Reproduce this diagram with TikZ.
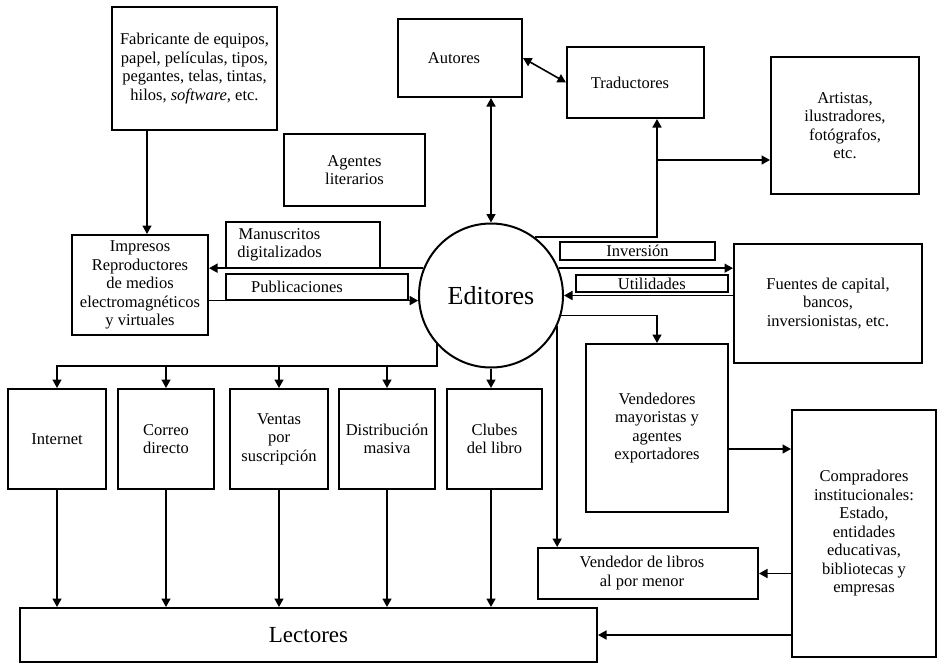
\documentclass[tikz,border=0pt]{standalone}
\usepackage{fontspec}
\setmainfont{Liberation Serif}
\usetikzlibrary{arrows.meta}
\tikzset{
  box/.style={draw, line width=2pt, inner sep=1pt, align=center, font=\fontsize{16.5}{18.5}\selectfont},
  arr/.style={line width=1.6pt, -{Triangle[length=8.5pt,width=9pt]}},
  darr/.style={line width=1.6pt, {Triangle[length=8.5pt,width=9pt]}-{Triangle[length=8.5pt,width=9pt]}},
  ln/.style={line width=1.6pt}
}
\begin{document}
\begin{tikzpicture}[x=1pt,y=-1pt]
\useasboundingbox (0,0) rectangle (937,664);
% nodes
\node[box, minimum width=165, minimum height=123] (fab) at (194.5,68.5) {Fabricante de equipos,\\papel, películas, tipos,\\pegantes, telas, tintas,\\hilos, \emph{software}, etc.};
\node[box, minimum width=136, minimum height=100] (imp) at (140,285) {Impresos\\Reproductores\\de medios\\electromagnéticos\\y virtuales};
\node[box, minimum width=141, minimum height=72] (agt) at (354.5,170) {Agentes\\literarios};
\node[box, minimum width=124, minimum height=78] (aut) at (460,58) {Autores\hspace{12pt}};
\node[box, minimum width=137, minimum height=71] (trad) at (635.5,82.5) {Traductores\hspace{11pt}};
\node[box, minimum width=148, minimum height=137] (art) at (845,125.5) {Artistas,\\ilustradores,\\fotógrafos,\\etc.};
\node[box, minimum width=154, minimum height=46, inner sep=0pt] (man) at (303,245) {\begin{tabular}{@{}c@{}}Manuscritos\\digitalizados\end{tabular}\hspace{47pt}};
\node[box, minimum width=182, minimum height=26, inner sep=0pt] (pub) at (317,287) {Publicaciones\hspace{40pt}};
\node[box, minimum width=155, minimum height=18, inner sep=0pt] (inv) at (637.5,251) {Inversión};
\node[box, minimum width=151.5, minimum height=17, inner sep=0pt] (uti) at (651.75,283.5) {Utilidades};
\node[box, minimum width=188, minimum height=119] (fue) at (828,303.5) {Fuentes de capital,\\bancos,\\inversionistas, etc.};
\node[draw, circle, line width=2pt, minimum size=144, inner sep=0pt, font=\fontsize{26}{30}\selectfont] (edi) at (491,295.5) {Editores};
\node[box, minimum width=142, minimum height=168] (vm) at (657,428) {Vendedores\\mayoristas y\\agentes\\exportadores};
\node[box, minimum width=144, minimum height=247] (comp) at (864,533.5) {Compradores\\institucionales:\\Estado,\\entidades\\educativas,\\bibliotecas y\\empresas};
\node[box, minimum width=220, minimum height=51] (vl) at (648,573.5) {\begin{tabular}{@{}c@{}}Vendedor de libros\\al por menor\end{tabular}\hspace{12pt}};
\node[box, minimum width=98, minimum height=100] (int) at (57,439) {Internet};
\node[box, minimum width=96, minimum height=100] (cor) at (166,439) {Correo\\directo};
\node[box, minimum width=98, minimum height=100] (ven) at (279,439) {Ventas\\por\\suscripción};
\node[box, minimum width=96, minimum height=100] (dis) at (387,439) {Distribución\\masiva};
\node[box, minimum width=95, minimum height=100] (clu) at (494.5,439) {Clubes\\del libro};
\node[box, minimum width=577, minimum height=54, font=\fontsize{23}{27}\selectfont] (lec) at (308.5,635) {Lectores};
% connectors
\draw[arr] ([xshift=-47.5pt]fab.south) -- ([xshift=-47.5pt]fab.south |- imp.north);
\draw[darr] (aut.south -| edi.north) -- (edi.north);
\draw[darr] (aut.east) -- (trad.west);
\coordinate (tj) at ([xshift=21.5pt]trad.south |- edi.53);
\draw[arr] (edi.53) -- (tj) -- ([xshift=21.5pt]trad.south);
\coordinate (aw) at ([yshift=-34.5pt]art.west);
\draw[arr] (tj |- aw) -- (aw);
\draw[arr] (edi.158) -- (edi.158 -| imp.east);
\draw[arr] (edi.184 -| imp.east) -- (edi.184);
\draw[arr] (edi.22) -- (edi.22 -| fue.west);
\draw[arr] (fue.west |- edi.east) -- (edi.east);
\draw[arr] (edi.-16.5) -- (edi.-16.5 -| vm.north) -- (vm.north);
\draw[arr] (edi.-25.5) -- (edi.-25.5 |- vl.north);
\draw[arr] ([yshift=-21pt]vm.east) -- ([yshift=-21pt]vm.east -| comp.west);
\draw[arr] (comp.west |- vl.east) -- (vl.east);
\draw[arr] (comp.west |- lec.east) -- (lec.east);
\coordinate (busl) at ([yshift=22pt]int.north);
\coordinate (bus) at (edi.222.6 |- busl);
\draw[arr] (edi.222.6) -- (bus) -- (busl) -- (int.north);
\foreach \n in {cor,ven,dis} \draw[arr] (bus -| \n.north) -- (\n.north);
\draw[arr] (edi.south) -- (edi.south |- clu.north);
\foreach \n in {int,cor,ven,dis} \draw[arr] (\n.south) -- (\n.south |- lec.north);
\draw[arr] (edi.south |- clu.south) -- (edi.south |- lec.north);
\end{tikzpicture}
\end{document}
